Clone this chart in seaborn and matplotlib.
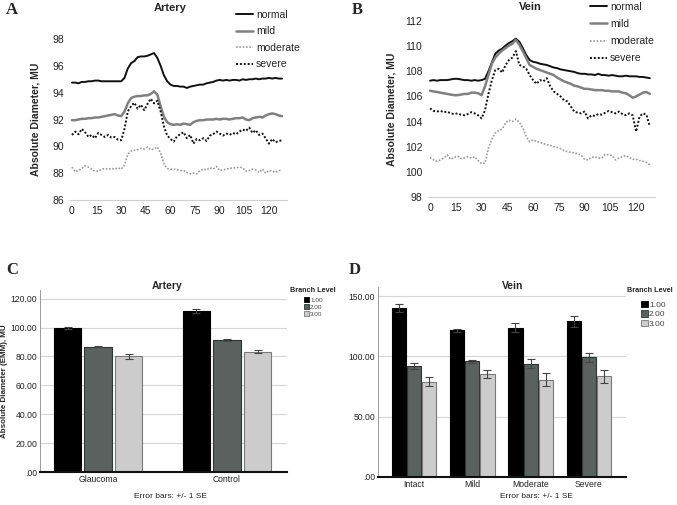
import numpy as np
import pandas as pd
import matplotlib
matplotlib.use("Agg")
import matplotlib.pyplot as plt
import seaborn as sns
from matplotlib.patches import Patch
from matplotlib.ticker import FuncFormatter

sns.set_theme(style="white")
plt.rcParams["font.family"] = ["Liberation Sans", "DejaVu Sans"]

# ----------------------------------------------------------------------
# Data
# ----------------------------------------------------------------------
time_s = np.arange(0, 130, 2)

artery_normal = [94.75, 94.75, 94.7, 94.8, 94.8, 94.85, 94.85, 94.9, 94.9, 94.85, 94.85, 94.85, 94.85, 94.85, 94.85, 94.85,
                 95.1, 95.8, 96.2, 96.35, 96.65, 96.7, 96.7, 96.75, 96.85, 96.95, 96.6, 96.0, 95.3, 94.85, 94.6, 94.5,
                 94.5, 94.45, 94.45, 94.35, 94.45, 94.5, 94.55, 94.6, 94.6, 94.7, 94.75, 94.8, 94.9, 94.95, 94.9, 94.95,
                 94.9, 94.95, 94.95, 94.9, 95.0, 94.95, 95.0, 95.0, 95.05, 95.0, 95.05, 95.05, 95.1, 95.05, 95.1, 95.05, 95.05]
artery_mild = [91.95, 91.95, 92.0, 92.05, 92.05, 92.1, 92.1, 92.15, 92.15, 92.2, 92.25, 92.3, 92.35, 92.4, 92.3, 92.25,
               92.6, 93.2, 93.6, 93.7, 93.75, 93.75, 93.8, 93.8, 93.9, 94.1, 93.85, 93.0, 92.2, 91.8, 91.65, 91.6,
               91.65, 91.6, 91.7, 91.65, 91.6, 91.8, 91.9, 91.95, 91.95, 92.0, 92.0, 92.0, 92.05, 92.0, 92.05, 92.05,
               92.0, 92.05, 92.1, 92.1, 92.15, 92.0, 91.95, 92.1, 92.15, 92.2, 92.15, 92.3, 92.4, 92.45, 92.4, 92.3, 92.25]
artery_moderate = [88.45, 88.1, 88.2, 88.35, 88.55, 88.45, 88.3, 88.15, 88.15, 88.3, 88.35, 88.3, 88.35, 88.3, 88.4, 88.3,
                   88.6, 89.4, 89.65, 89.7, 89.75, 89.85, 89.8, 89.95, 89.75, 89.8, 89.95, 89.5, 88.7, 88.35, 88.3, 88.3,
                   88.25, 88.2, 88.2, 88.05, 87.95, 88.0, 87.95, 88.2, 88.3, 88.25, 88.4, 88.3, 88.5, 88.2, 88.25, 88.3,
                   88.35, 88.4, 88.4, 88.45, 88.4, 88.15, 88.2, 88.3, 88.25, 88.05, 88.3, 88.0, 88.2, 88.15, 88.05, 88.2, 88.2]
artery_severe = [90.85, 91.1, 90.9, 91.3, 91.05, 90.7, 90.85, 90.6, 91.0, 90.85, 90.7, 90.85, 90.65, 90.7, 90.5, 90.45,
                 91.3, 92.6, 93.0, 93.25, 92.8, 93.1, 92.7, 93.15, 93.55, 93.2, 93.4, 92.6, 91.5, 90.8, 90.55, 90.35,
                 90.75, 90.9, 91.05, 90.6, 90.85, 90.2, 90.55, 90.45, 90.6, 90.4, 90.8, 90.9, 91.1, 90.95, 90.8, 90.95,
                 90.85, 91.0, 90.9, 91.1, 91.25, 91.15, 91.4, 91.0, 91.2, 90.85, 90.95, 90.6, 90.2, 90.55, 90.3, 90.4, 90.45]

vein_normal = [107.25, 107.3, 107.25, 107.3, 107.3, 107.3, 107.35, 107.4, 107.4, 107.35, 107.3, 107.3, 107.25, 107.3, 107.25, 107.3,
               107.4, 108.0, 108.7, 109.4, 109.65, 109.8, 110.05, 110.25, 110.4, 110.6, 110.35, 109.85, 109.3, 108.9, 108.75, 108.7,
               108.6, 108.55, 108.5, 108.4, 108.3, 108.25, 108.15, 108.1, 108.05, 108.0, 107.95, 107.85, 107.8, 107.8, 107.75, 107.75,
               107.7, 107.8, 107.7, 107.7, 107.65, 107.7, 107.65, 107.6, 107.6, 107.65, 107.6, 107.6, 107.6, 107.55, 107.55, 107.5, 107.45]
vein_mild = [106.45, 106.4, 106.35, 106.3, 106.25, 106.2, 106.15, 106.1, 106.1, 106.15, 106.2, 106.2, 106.3, 106.3, 106.25, 106.1,
             106.8, 107.7, 108.6, 109.1, 109.4, 109.65, 109.85, 110.05, 110.2, 110.5, 110.1, 109.6, 109.05, 108.5, 108.35, 108.2,
             108.1, 108.0, 107.9, 107.8, 107.7, 107.5, 107.35, 107.2, 107.1, 107.0, 106.85, 106.8, 106.7, 106.6, 106.6, 106.55,
             106.5, 106.5, 106.5, 106.45, 106.45, 106.4, 106.4, 106.4, 106.3, 106.25, 106.1, 105.9, 106.0, 106.15, 106.3, 106.35, 106.2]
vein_moderate = [101.15, 100.95, 100.85, 100.95, 101.1, 101.35, 101.0, 101.15, 101.25, 101.05, 101.1, 101.2, 101.1, 101.2, 100.9, 100.65,
                 100.7, 101.9, 102.6, 103.1, 103.3, 103.4, 103.9, 104.1, 104.0, 104.2, 103.95, 103.5, 102.8, 102.4, 102.55, 102.4,
                 102.35, 102.25, 102.15, 102.1, 102.0, 101.95, 101.85, 101.7, 101.6, 101.55, 101.5, 101.45, 101.35, 101.0, 100.95, 101.15,
                 101.2, 101.1, 101.1, 101.4, 101.35, 101.3, 100.95, 101.1, 101.2, 101.3, 101.15, 101.0, 101.0, 100.9, 100.85, 100.75, 100.55]
vein_severe = [105.05, 104.85, 104.8, 104.85, 104.75, 104.8, 104.65, 104.6, 104.65, 104.55, 104.5, 104.6, 104.75, 104.65, 104.5, 104.25,
               104.9, 106.2, 107.3, 108.1, 108.2, 107.9, 108.5, 108.9, 109.1, 109.6, 108.5, 108.4, 108.2, 107.7, 107.3, 107.0,
               107.3, 107.2, 107.45, 106.8, 106.4, 106.2, 106.0, 105.7, 105.6, 105.2, 104.8, 104.7, 104.65, 104.8, 104.25, 104.5,
               104.45, 104.6, 104.55, 104.7, 104.85, 104.75, 104.65, 104.8, 104.6, 104.5, 104.65, 104.5, 103.2, 104.4, 104.65, 104.55, 103.6]

line_names = ["normal", "mild", "moderate", "severe"]

branch_levels = ["1.00", "2.00", "3.00"]

artery_groups = ["Glaucoma", "Control"]
artery_mean_l1 = [99.6, 111.4]
artery_mean_l2 = [86.8, 91.2]
artery_mean_l3 = [80.1, 83.3]
artery_se_l1 = [0.7, 1.2]
artery_se_l2 = [0.6, 0.8]
artery_se_l3 = [1.8, 1.2]

vein_groups = ["Intact", "Mild", "Moderate", "Severe"]
vein_mean_l1 = [140.0, 121.5, 123.8, 129.0]
vein_mean_l2 = [92.3, 95.9, 93.9, 99.2]
vein_mean_l3 = [79.0, 85.6, 80.7, 83.4]
vein_se_l1 = [3.5, 1.2, 4.0, 4.8]
vein_se_l2 = [2.6, 1.2, 3.7, 3.5]
vein_se_l3 = [3.6, 3.2, 5.5, 5.5]

# ----------------------------------------------------------------------
# Styles
# ----------------------------------------------------------------------
line_styles = {
    "normal": dict(color="#111111", lw=1.4, ls="-"),
    "mild": dict(color="#808080", lw=1.8, ls="-"),
    "moderate": dict(color="#9a9a9a", lw=1.2, ls=(0, (1, 1))),
    "severe": dict(color="#111111", lw=1.4, ls=(0, (1, 1))),
}
bar_colors = ["#000000", "#59625e", "#cccccc"]
bar_edges = ["#000000", "#2f3532", "#7a7a7a"]

W, H = 677, 505
fig = plt.figure(figsize=(W / 100, H / 100), dpi=100)


def rect(left, top, right, bottom):
    return [left / W, 1 - bottom / H, (right - left) / W, (bottom - top) / H]


def line_panel(box, series, ylim, yticks, title, letter, letter_xy, title_xy, ylabel_x,
               legend_xy, legend_spacing):
    ax = fig.add_axes(rect(*box))
    for name, values in zip(line_names, series):
        st = line_styles[name]
        sns.lineplot(x=time_s, y=values, ax=ax, color=st["color"], linewidth=st["lw"],
                     linestyle=st["ls"], label=name)
    ax.set_xlim(-1.2, 131)
    ax.set_ylim(*ylim)
    ax.set_yticks(yticks)
    ax.set_xticks(np.arange(0, 121, 15))
    ax.tick_params(axis="both", labelsize=7.5, length=0, pad=4, colors="#222222")
    for s in ["top", "right", "left"]:
        ax.spines[s].set_visible(False)
    ax.spines["bottom"].set_color("#d0d0d0")
    ax.spines["bottom"].set_linewidth(0.8)
    ax.set_xlabel("")
    ax.set_ylabel("")
    fig.text(ylabel_x / W, 1 - (box[1] + box[3]) / 2 / H, "Absolute Diameter, MU", rotation=90,
             fontsize=7.5, fontweight="bold", ha="center", va="center")
    fig.text(title_xy[0] / W, 1 - title_xy[1] / H, title, fontsize=8, fontweight="bold",
             ha="center", va="center")
    fig.text(letter_xy[0] / W, 1 - letter_xy[1] / H, letter, fontsize=12, fontweight="bold",
             family=["Liberation Serif", "DejaVu Serif"], ha="left", va="center")
    ax.legend(loc="upper left", bbox_to_anchor=(legend_xy[0] / W, 1 - legend_xy[1] / H),
              bbox_transform=fig.transFigure, frameon=False, fontsize=7.5, handlelength=1.6,
              handletextpad=0.3, labelspacing=legend_spacing, borderaxespad=0, borderpad=0)
    return ax


line_panel((70, 39, 287, 200), [artery_normal, artery_mild, artery_moderate, artery_severe],
           (86, 98), np.arange(86, 99, 2), "Artery", "A", (6, 10), (170, 8), 35, (236, 10), 0.62)
line_panel((428, 21, 655, 197), [vein_normal, vein_mild, vein_moderate, vein_severe],
           (98, 112), np.arange(98, 113, 2), "Vein", "B", (352, 10), (530, 7), 392, (590, 2), 0.68)


def bar_panel(box, groups, means, ses, ylim, yticks, xlim, width, gap, title, letter, letter_xy,
              title_xy, ylabel, ylabel_x, note_xy, leg_title_xy, leg_xy, leg_title_size, leg_size):
    ax = fig.add_axes(rect(*box))
    df = pd.DataFrame({
        "group": np.repeat([groups], len(branch_levels), axis=0).ravel(),
        "level": np.repeat(branch_levels, len(groups)),
        "mean": np.concatenate(means),
    })
    sns.barplot(data=df, x="group", y="mean", hue="level", palette=bar_colors, errorbar=None,
                width=width, gap=gap, legend=False, ax=ax, zorder=2)
    for cont, se, ec in zip(ax.containers, ses, bar_edges):
        xs, ys = [], []
        for bar in cont:
            bar.set_edgecolor(ec)
            bar.set_linewidth(0.8)
            xs.append(bar.get_x() + bar.get_width() / 2)
            ys.append(bar.get_height())
        ax.errorbar(xs, ys, yerr=se, fmt="none", ecolor="#444444", elinewidth=0.8,
                    capsize=3, capthick=0.8, zorder=3)
    ax.set_xlim(*xlim)
    ax.set_ylim(*ylim)
    ax.set_yticks(yticks)
    ax.yaxis.set_major_formatter(FuncFormatter(lambda v, _: f"{v:.2f}" if v else ".00"))
    ax.yaxis.grid(True, color="#d6d6d6", linewidth=0.8, zorder=0)
    ax.set_axisbelow(True)
    ax.tick_params(axis="both", labelsize=6.2, length=0, pad=2, colors="#222222")
    ax.spines["top"].set_visible(False)
    ax.spines["right"].set_visible(False)
    ax.spines["left"].set_color("#9a9a9a")
    ax.spines["left"].set_linewidth(0.7)
    ax.spines["bottom"].set_color("#111111")
    ax.spines["bottom"].set_linewidth(1.5)
    ax.set_xlabel("")
    ax.set_ylabel("")
    if ylabel:
        fig.text(ylabel_x / W, 1 - (box[1] + box[3]) / 2 / H, ylabel, rotation=90,
                 fontsize=5.8, fontweight="bold", ha="center", va="center")
    fig.text(title_xy[0] / W, 1 - title_xy[1] / H, title, fontsize=7.5, fontweight="bold",
             ha="center", va="center")
    fig.text(letter_xy[0] / W, 1 - letter_xy[1] / H, letter, fontsize=12, fontweight="bold",
             family=["Liberation Serif", "DejaVu Serif"], ha="left", va="center")
    fig.text(note_xy[0] / W, 1 - note_xy[1] / H, "Error bars: +/- 1 SE", fontsize=6,
             ha="center", va="center", color="#222222")
    # legend: bold title, indented entries
    fig.text(leg_title_xy[0] / W, 1 - leg_title_xy[1] / H, "Branch Level", fontsize=leg_title_size,
             fontweight="bold", ha="left", va="center")
    handles = [Patch(facecolor=c, edgecolor=e, linewidth=0.6) for c, e in zip(bar_colors, bar_edges)]
    fig.legend(handles, branch_levels, loc="upper left",
               bbox_to_anchor=(leg_xy[0] / W, 1 - leg_xy[1] / H), frameon=False,
               fontsize=leg_size, handlelength=0.8, handleheight=0.8, handletextpad=0.15,
               labelspacing=0.2, borderpad=0, borderaxespad=0, labelcolor="#444444")
    return ax


bar_panel((40, 290, 287, 472), artery_groups,
          [artery_mean_l1, artery_mean_l2, artery_mean_l3],
          [artery_se_l1, artery_se_l2, artery_se_l3],
          (0, 126), np.arange(0, 121, 20), (-0.45, 1.465), 0.71, 0.1,
          "Artery", "C", (6, 270), (167, 286), "Absolute Diameter (EMM), MU", 5, (170, 497),
          (290, 291), (304, 297.5), 5.2, 4.6)
bar_panel((378, 287, 626, 477), vein_groups,
          [vein_mean_l1, vein_mean_l2, vein_mean_l3],
          [vein_se_l1, vein_se_l2, vein_se_l3],
          (0, 157.5), np.arange(0, 151, 50), (-0.617, 3.635), 0.78, 0.06,
          "Vein", "D", (349, 270), (513, 286), None, 0, (536, 497),
          (627, 291), (641, 300.5), 5.2, 6.0)

fig.savefig("out.png", dpi=100)
